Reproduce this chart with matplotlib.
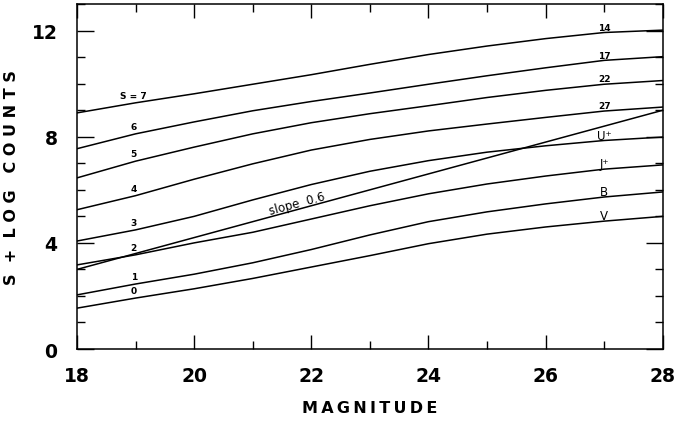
import matplotlib
matplotlib.use("Agg")
import matplotlib.pyplot as plt
from matplotlib.ticker import MultipleLocator

mag = [18, 19, 20, 21, 22, 23, 24, 25, 26, 27, 28]

s7 = [8.90, 9.28, 9.62, 9.98, 10.34, 10.73, 11.10, 11.42, 11.70, 11.93, 12.02]
s6 = [7.55, 8.11, 8.56, 8.98, 9.33, 9.65, 9.98, 10.30, 10.60, 10.88, 11.02]
s5 = [6.45, 7.08, 7.61, 8.11, 8.53, 8.87, 9.17, 9.48, 9.75, 9.98, 10.12]
s4 = [5.25, 5.78, 6.40, 6.98, 7.50, 7.90, 8.22, 8.48, 8.73, 8.97, 9.12]
s3 = [4.07, 4.49, 5.00, 5.62, 6.20, 6.70, 7.10, 7.42, 7.66, 7.86, 7.99]
s2 = [3.17, 3.55, 4.00, 4.40, 4.90, 5.40, 5.85, 6.22, 6.52, 6.78, 6.94]
s1 = [2.04, 2.45, 2.82, 3.25, 3.75, 4.30, 4.80, 5.17, 5.47, 5.73, 5.92]
s0 = [1.54, 1.92, 2.27, 2.66, 3.09, 3.52, 3.97, 4.33, 4.60, 4.82, 5.00]

curves = [s7, s6, s5, s4, s3, s2, s1, s0]
left_labels = ["S = 7", "6", "5", "4", "3", "2", "1", "0"]
right_labels = ["14", "17", "22", "27", "U\u207a", "J\u207a", "B", "V"]

slope_mag = [18, 28]
slope_val = [3.0, 9.0]

fig = plt.figure(figsize=(6.77, 4.27), dpi=100)
ax = fig.add_axes([0.1137, 0.1803, 0.8653, 0.8077])

for c in curves:
    ax.plot(mag, c, color="black", lw=1.1, solid_joinstyle="round")
ax.plot(slope_mag, slope_val, color="black", lw=1.1)

# left labels at magnitude 19
for lab, c in zip(left_labels, curves):
    ax.text(18.97, c[1] + 0.28, lab, ha="center", va="center",
            fontsize=6.5, fontweight="bold")

# right labels at magnitude 27
for lab, c in zip(right_labels, curves):
    bold = lab[0].isdigit()
    ax.text(27.0, c[9] + 0.2, lab, ha="center", va="center",
            fontsize=6.5 if bold else 8.5,
            fontweight="bold" if bold else "normal")

ax.text(21.75, 5.5, "slope  0.6", rotation=15.2, ha="center", va="center",
        fontsize=8.5, rotation_mode="anchor")

ax.set_xlim(18, 28)
ax.set_ylim(0, 13)
ax.xaxis.set_major_locator(MultipleLocator(2))
ax.xaxis.set_minor_locator(MultipleLocator(1))
ax.yaxis.set_major_locator(MultipleLocator(4))
ax.yaxis.set_minor_locator(MultipleLocator(1))
ax.tick_params(which="both", direction="in", top=True, right=True, width=1.0)
ax.tick_params(which="major", length=10)
ax.tick_params(which="minor", length=6)
ax.tick_params(axis="y", which="major", length=12)
ax.tick_params(axis="x", which="major", pad=12, labelsize=13.5)
ax.tick_params(axis="y", which="major", pad=14, labelsize=13.5)
for lbl in ax.get_xticklabels() + ax.get_yticklabels():
    lbl.set_fontweight("bold")
for sp in ax.spines.values():
    sp.set_linewidth(1.1)

ax.set_xlabel("M\u2009A\u2009G\u2009N\u2009I\u2009T\u2009U\u2009D\u2009E", fontsize=11.5,
              fontweight="bold", labelpad=11)
ax.set_ylabel("S  +  L O G   C O U N T S", fontsize=11.5, fontweight="bold", labelpad=9)

fig.savefig("out.png", dpi=100)
